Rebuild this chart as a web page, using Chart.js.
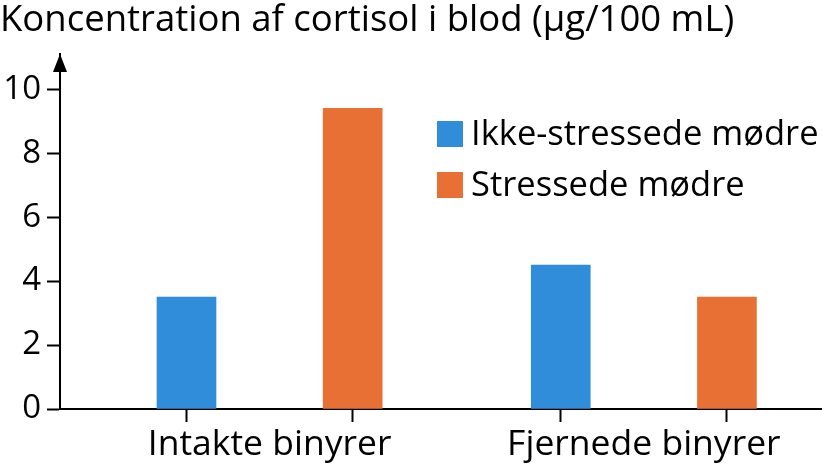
<!DOCTYPE html>
<html>
<head>
<meta charset="utf-8">
<script src="https://cdn.jsdelivr.net/npm/chart.js@4.4.0/dist/chart.umd.min.js"></script>
<style>
  html, body { margin: 0; padding: 0; background: #fff; }
  #wrap { width: 822px; height: 466px; }
</style>
</head>
<body>
<div id="wrap"><canvas id="cortisolChart"></canvas></div>
<script>
// data
const categories = ['Intakte binyrer', 'Fjernede binyrer'];
const seriesLabels = ['Ikke-stressede mødre', 'Stressede mødre'];
const ikkeStressede = [3.5, 4.5];
const stressede = [9.4, 3.5];
const yTicks = [0, 2, 4, 6, 8, 10];
const chartTitle = 'Koncentration af cortisol i blod (µg/100 mL)';

const COLORS = ['#308dd9', '#e97035'];
const FONT = "'Open Sans', sans-serif";
const BAR_OFFSET = 0.222; // bars sit either side of the category position

// y axis arrow head
const axisArrow = {
    id: 'axisArrow',
    afterDraw(chart) {
        const { ctx, chartArea } = chart;
        const x = chartArea.left;
        const y = chartArea.top;
        ctx.save();
        ctx.fillStyle = '#000';
        ctx.beginPath();
        ctx.moveTo(x, y);
        ctx.lineTo(x - 7, y + 18);
        ctx.lineTo(x + 7, y + 18);
        ctx.closePath();
        ctx.fill();
        ctx.restore();
    }
};

// legend drawn inside the plot, stacked, top right
const legendInArea = {
    id: 'legendInArea',
    afterDraw(chart) {
        const { ctx, chartArea } = chart;
        ctx.save();
        ctx.font = '34.5px ' + FONT;
        ctx.textBaseline = 'middle';
        chart.data.datasets.forEach((ds, i) => {
            const x = chartArea.right - 385;
            const y = chartArea.top + 67 + i * 51;
            ctx.fillStyle = ds.backgroundColor;
            ctx.fillRect(x, y, 26, 26);
            ctx.fillStyle = '#000';
            ctx.fillText(ds.label, x + 34, y + 14);
        });
        ctx.restore();
    }
};

const isLabelTick = c => c.tick !== undefined && Number.isInteger(c.tick.value);

const ctx = document.getElementById('cortisolChart').getContext('2d');

new Chart(ctx, {
    type: 'bar',
    data: {
        datasets: [{
            label: seriesLabels[0],
            data: categories.map((c, i) => ({ x: i + 1 - BAR_OFFSET, y: ikkeStressede[i] })),
            backgroundColor: COLORS[0],
            borderWidth: 0
        }, {
            label: seriesLabels[1],
            data: categories.map((c, i) => ({ x: i + 1 + BAR_OFFSET, y: stressede[i] })),
            backgroundColor: COLORS[1],
            borderWidth: 0
        }]
    },
    plugins: [axisArrow, legendInArea],
    options: {
        responsive: true,
        maintainAspectRatio: false,
        animation: false,
        grouped: false,
        barThickness: 59,
        layout: { padding: 0 },
        plugins: {
            legend: { display: false },
            tooltip: { enabled: false },
            title: {
                display: true,
                text: chartTitle,
                align: 'start',
                color: '#000',
                font: { family: FONT, size: 36.5, weight: 'normal', lineHeight: 1 },
                padding: { top: 2, bottom: 15.5 }
            }
        },
        scales: {
            x: {
                type: 'linear',
                offset: false,
                min: 0.44,
                max: 2.476,
                afterBuildTicks: s => {
                    s.ticks = categories.flatMap((c, i) =>
                        [i + 1 - BAR_OFFSET, i + 1, i + 1 + BAR_OFFSET].map(v => ({ value: v })));
                },
                afterFit: s => { s.height = 57; },
                border: { color: '#000', width: 2 },
                grid: {
                    offset: false,
                    drawOnChartArea: false,
                    tickLength: 13,
                    tickWidth: 2,
                    tickColor: c => isLabelTick(c) ? 'rgba(0,0,0,0)' : '#000'
                },
                ticks: {
                    autoSkip: false,
                    maxRotation: 0,
                    minRotation: 0,
                    padding: 2,
                    color: '#000',
                    font: { family: FONT, size: 35.5 },
                    callback: v => Number.isInteger(v) ? categories[v - 1] : ''
                }
            },
            y: {
                min: 0,
                max: 11.1,
                afterBuildTicks: s => { s.ticks = yTicks.map(v => ({ value: v })); },
                afterFit: s => { s.width = 60; },
                border: { color: '#000', width: 2 },
                grid: {
                    drawOnChartArea: false,
                    tickLength: 13,
                    tickWidth: 2,
                    tickColor: '#000'
                },
                ticks: {
                    padding: 6,
                    color: '#000',
                    font: { family: FONT, size: 33 }
                }
            }
        }
    }
});
</script>
</body>
</html>
